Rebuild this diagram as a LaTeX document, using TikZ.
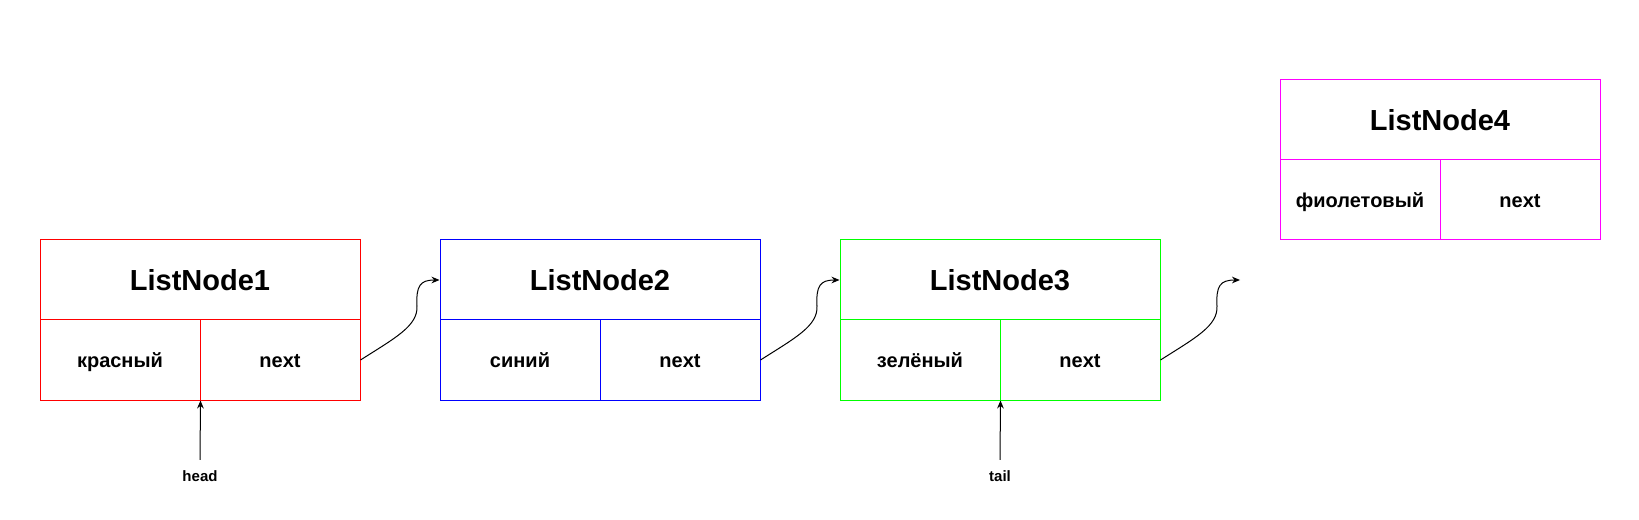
\documentclass[tikz,border=0pt]{standalone}
\usepackage{fontspec}
\setmainfont{Liberation Sans}
\usetikzlibrary{arrows.meta}
\definecolor{cRed}{RGB}{255,0,0}
\definecolor{cBlue}{RGB}{0,0,255}
\definecolor{cGreen}{RGB}{0,255,0}
\definecolor{cMag}{RGB}{255,0,255}
\begin{document}
\begin{tikzpicture}[x=0.75pt,y=-0.75pt,
  cell/.style={draw, line width=0.75pt, rectangle, inner sep=0pt, minimum height=60pt, text depth=0pt},
  title/.style={cell, minimum width=240pt, text height=15.75pt, font=\bfseries\fontsize{21.75}{24}\selectfont},
  val/.style={cell, minimum width=120pt, text height=11pt, font=\bfseries\fontsize{15}{18}\selectfont},
  lbl/.style={inner sep=0pt, anchor=base, font=\bfseries\fontsize{11.25}{13}\selectfont},
  arr/.style={line width=0.75pt, -{Stealth[length=6pt,width=5pt]}}
]
\useasboundingbox (0,0) rectangle (1639,520);
% ListNode1
\node[title, cRed, text=black] (t1) at (200,280) {ListNode1};
\node[val, cRed, text=black] (v1) at (120,360) {красный};
\node[val, cRed, text=black] (n1) at (280,360) {next};
% ListNode2
\node[title, cBlue, text=black] (t2) at (600,280) {ListNode2};
\node[val, cBlue, text=black] (v2) at (520,360) {синий};
\node[val, cBlue, text=black] (n2) at (680,360) {next};
% ListNode3
\node[title, cGreen, text=black] (t3) at (1000,280) {ListNode3};
\node[val, cGreen, text=black] (v3) at (920,360) {зелёный};
\node[val, cGreen, text=black] (n3) at (1080,360) {next};
% ListNode4
\node[title, cMag, text=black] (t4) at (1440,120) {ListNode4};
\node[val, cMag, text=black] (v4) at (1360,200) {фиолетовый};
\node[val, cMag, text=black] (n4) at (1520,200) {next};
% links
\draw[arr] (n1.east) .. controls (395,338) and (418,326) .. (417,306)
  .. controls (416,286) and (420,280) .. (t2.west);
\draw[arr] (n2.east) .. controls (795,338) and (818,326) .. (817,306)
  .. controls (816,286) and (820,280) .. (t3.west);
\coordinate (free) at (1240,280);
\draw[arr] (n3.east) .. controls (1195,338) and (1218,326) .. (1217,306)
  .. controls (1216,286) and (1220,280) .. (free);
% head / tail
\node[lbl] (head) at (200,481) {head};
\node[lbl] (tail) at (1000,481) {tail};
\draw[arr] ([yshift=7.5pt]head.north) -- (v1.south east);
\draw[arr] ([yshift=7.5pt]tail.north) -- (v3.south east);
\end{tikzpicture}
\end{document}
